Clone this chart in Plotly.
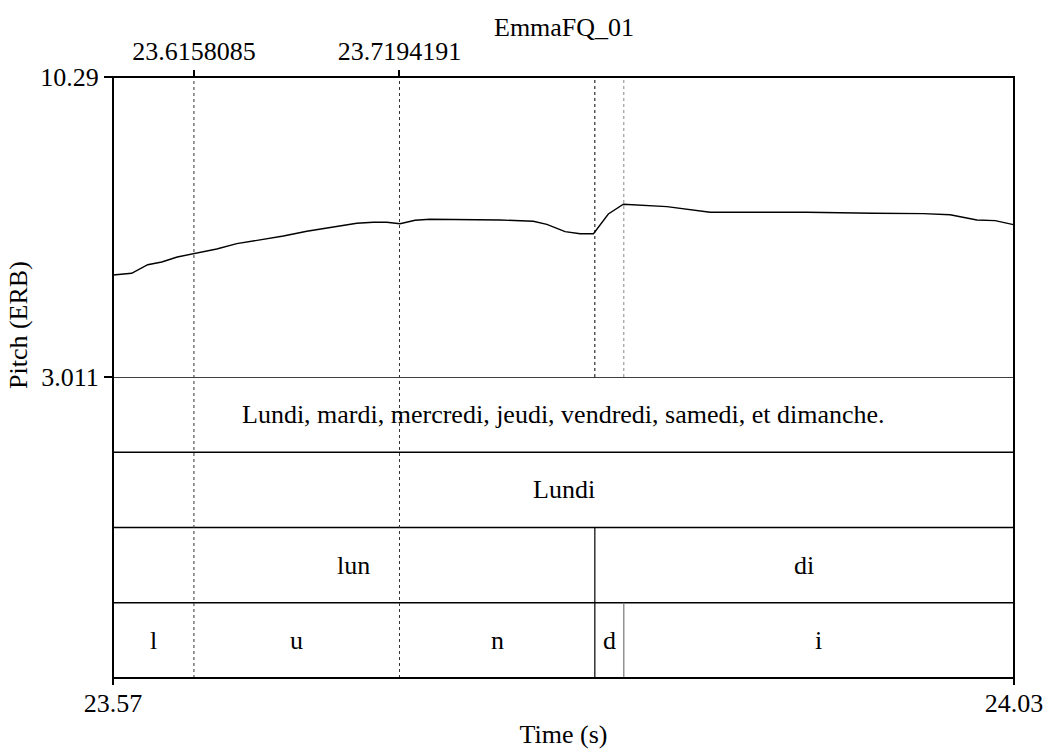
import plotly.graph_objects as go

# ---- data ----
t_start, t_end = 23.575, 24.0292
pitch_min, pitch_max = 3.011, 10.29

times = [23.5750, 23.5844, 23.5925, 23.5996, 23.6074, 23.6158, 23.6273, 23.6374,
         23.6491, 23.6609, 23.6727, 23.6861, 23.6979, 23.7062, 23.7130, 23.7197,
         23.7273, 23.7348, 23.7567, 23.7701, 23.7869, 23.7937, 23.8029, 23.8105,
         23.8172, 23.8247, 23.8323, 23.8542, 23.8760, 23.9079, 23.9247, 23.9583,
         23.9835, 23.9970, 24.0105, 24.0197, 24.0289]
pitch = [5.486, 5.527, 5.736, 5.802, 5.923, 6.003, 6.117, 6.246,
         6.335, 6.432, 6.547, 6.658, 6.741, 6.765, 6.765, 6.731,
         6.813, 6.838, 6.838, 6.821, 6.789, 6.716, 6.537, 6.488,
         6.488, 6.966, 7.202, 7.144, 7.008, 7.015, 7.008, 6.983,
         6.974, 6.949, 6.821, 6.804, 6.707]

top_marks = [23.6158085, 23.7194191]
top_mark_labels = ["23.6158085", "23.7194191"]
bottom_tick_vals = [t_start, t_end]
bottom_tick_labels = ["23.57", "24.03"]
y_tick_vals = [pitch_min, pitch_max]
y_tick_labels = ["3.011", "10.29"]

b_d = 23.8179   # lun | di, and n | d
b_i = 23.8325   # d | i

tier_sentence_bounds = [t_start, t_end]
tier_sentence_labels = ["Lundi, mardi, mercredi, jeudi, vendredi, samedi, et dimanche."]
tier_word_bounds = [t_start, t_end]
tier_word_labels = ["Lundi"]
tier_syll_bounds = [t_start, b_d, t_end]
tier_syll_labels = ["lun", "di"]
tier_phone_bounds = [t_start, top_marks[0], top_marks[1], b_d, b_i, t_end]
tier_phone_labels = ["l", "u", "n", "d", "i"]

tiers = [  # (row index from bottom, bounds, labels)
    (3, tier_sentence_bounds, tier_sentence_labels),
    (2, tier_word_bounds, tier_word_labels),
    (1, tier_syll_bounds, tier_syll_labels),
    (0, tier_phone_bounds, tier_phone_labels),
]

FONT = "Liberation Serif, Times New Roman, serif"
FS = 26

W, H = 1049, 749
ml, mr, mt, mb = 113, 35, 77, 71
plot_h = H - mt - mb
pitch_frac = 300 / plot_h
split = 1 - pitch_frac

fig = go.Figure()
fig.add_trace(go.Scatter(x=times, y=pitch, mode="lines",
                         line=dict(color="black", width=1.4),
                         xaxis="x", yaxis="y", showlegend=False, hoverinfo="skip"))
# invisible traces to activate y2 / x2
fig.add_trace(go.Scatter(x=[t_start], y=[0], mode="markers", marker=dict(opacity=0),
                         xaxis="x", yaxis="y2", showlegend=False, hoverinfo="skip"))
fig.add_trace(go.Scatter(x=[t_start], y=[pitch_min], mode="markers", marker=dict(opacity=0),
                         xaxis="x2", yaxis="y", showlegend=False, hoverinfo="skip"))

shapes = []
annotations = []

# tier horizontal lines
for yv in [1, 2, 3, 4]:
    shapes.append(dict(type="line", xref="paper", yref="y2", x0=0, x1=1, y0=yv, y1=yv,
                       line=dict(color="black", width=1.5)))

# tier labels
for row, bounds, labels in tiers:
    for i, lab in enumerate(labels):
        annotations.append(dict(x=(bounds[i] + bounds[i + 1]) / 2, y=row + 0.5,
                                xref="x", yref="y2", text=lab, showarrow=False,
                                font=dict(family=FONT, size=FS, color="black")))

# boundary at b_d: solid in syllable + phone tiers, dotted in pitch
shapes.append(dict(type="line", xref="x", yref="y2", x0=b_d, x1=b_d, y0=0, y1=2,
                   line=dict(color="black", width=1.2)))
shapes.append(dict(type="line", xref="x", yref="y", x0=b_d, x1=b_d, y0=pitch_min, y1=pitch_max,
                   line=dict(color="black", width=1, dash="dot")))
# boundary at b_i: gray solid in phone tier, gray dotted in pitch
shapes.append(dict(type="line", xref="x", yref="y2", x0=b_i, x1=b_i, y0=0, y1=1,
                   line=dict(color="#777777", width=1.2)))
shapes.append(dict(type="line", xref="x", yref="y", x0=b_i, x1=b_i, y0=pitch_min, y1=pitch_max,
                   line=dict(color="#888888", width=1, dash="dot")))
# marked times: dotted full height
for tm in top_marks:
    shapes.append(dict(type="line", xref="x", yref="paper", x0=tm, x1=tm, y0=0, y1=1,
                       line=dict(color="#333333", width=1, dash="dot")))

# outer frame
shapes.append(dict(type="rect", xref="paper", yref="paper", x0=0, x1=1, y0=0, y1=1,
                   line=dict(color="black", width=2)))

# title
annotations.append(dict(x=0.5, y=1, xref="paper", yref="paper", yshift=50,
                        text="EmmaFQ_01", showarrow=False, yanchor="middle",
                        font=dict(family=FONT, size=FS, color="black")))
# y label
annotations.append(dict(x=0, y=1 - (325 - mt) / plot_h, xref="paper", yref="paper",
                        showarrow=False, text="Pitch (ERB)", textangle=-90,
                        xanchor="center", yanchor="middle", xshift=-95,
                        font=dict(family=FONT, size=FS, color="black")))

fig.update_layout(
    width=W, height=H, autosize=False,
    margin=dict(l=ml, r=mr, t=mt, b=mb),
    paper_bgcolor="white", plot_bgcolor="white",
    font=dict(family=FONT, size=FS, color="black"),
    xaxis=dict(range=[t_start, t_end], anchor="y2", showgrid=False, zeroline=False,
               automargin=False,
               tickmode="array", tickvals=bottom_tick_vals, ticktext=bottom_tick_labels,
               ticks="outside", ticklen=6, tickwidth=1.5, tickcolor="black",
               ticklabelstandoff=-4,
               title=dict(text="Time (s)", font=dict(family=FONT, size=FS), standoff=11),
               showline=False),
    xaxis2=dict(range=[t_start, t_end], overlaying="x", side="top", anchor="y",
                automargin=False,
                showgrid=False, zeroline=False, tickmode="array",
                tickvals=top_marks, ticktext=top_mark_labels,
                ticks="outside", ticklen=6, tickwidth=1.5, tickcolor="black"),
    yaxis=dict(domain=[split, 1], range=[pitch_min, pitch_max], showgrid=False, zeroline=False,
               automargin=False,
               tickmode="array", tickvals=y_tick_vals, ticktext=y_tick_labels,
               ticks="outside", ticklen=8, tickwidth=1.5, tickcolor="black", anchor="x"),
    yaxis2=dict(domain=[0, split], range=[0, 4], showgrid=False, zeroline=False,
                automargin=False,
                showticklabels=False, ticks="", anchor="x"),
    shapes=shapes, annotations=annotations,
)

fig.write_html("out.html")
